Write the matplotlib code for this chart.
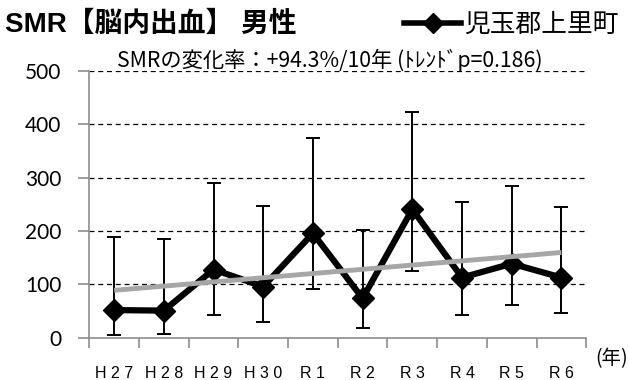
import matplotlib
matplotlib.use("Agg")
import matplotlib.pyplot as plt
import numpy as np

plt.rcParams['font.family'] = ['Noto Sans CJK JP', 'DejaVu Sans']

# Data
years = ["H27", "H28", "H29", "H30", "R1", "R2", "R3", "R4", "R5", "R6"]
smr = [52, 51, 128, 96, 196, 74, 241, 113, 139, 113]
ci_upper = [189, 186, 291, 247, 374, 202, 423, 254, 284, 246]
ci_lower = [5, 7, 43, 29, 91, 19, 126, 42, 61, 46]
trend_start = 89
trend_end = 160
area_name = "児玉郡上里町"
title = "SMR【脳内出血】 男性"
subtitle = "SMRの変化率：+94.3%/10年 (ﾄﾚﾝﾄﾞp=0.186)"
yticks = [0, 100, 200, 300, 400, 500]

fig = plt.figure(figsize=(6.29, 3.80), dpi=100)
ax = fig.add_axes([0.142, 0.111, 0.790, 0.702])

x = np.arange(len(years))
smr_a = np.array(smr)
yerr = [smr_a - np.array(ci_lower), np.array(ci_upper) - smr_a]

for v in yticks[1:]:
    ax.axhline(v, color='black', lw=0.9, ls=(0, (4, 3)), zorder=1)

ax.errorbar(x, smr, yerr=yerr, fmt='none', ecolor='black', elinewidth=1.4,
            capsize=5, capthick=1.4, zorder=2)
ax.plot(x, smr, color='black', lw=4.5, marker='D', markersize=11, zorder=3)
trend = np.linspace(trend_start, trend_end, len(years))
ax.plot([x[0], x[-1]], [trend[0], trend[-1]], color='#a6a6a6', lw=3.5,
        solid_capstyle='butt', zorder=4)

ax.set_xlim(-0.5, len(years) - 0.5)
ax.set_ylim(0, 500)

for s in ['top', 'right']:
    ax.spines[s].set_visible(False)
for s in ['left', 'bottom']:
    ax.spines[s].set_color('#8c8c8c')
    ax.spines[s].set_linewidth(1.2)

ax.set_yticks(yticks)
ax.set_yticklabels([str(v) for v in yticks], fontsize=15, family='Lato')
ax.tick_params(axis='y', length=8, width=1.2, color='#8c8c8c', pad=12)

ax.set_xticks(np.arange(len(years) + 1) - 0.5)
ax.set_xticklabels([])
ax.tick_params(axis='x', which='major', length=7, width=1.2, color='#8c8c8c')
ax.set_xticks(x, minor=True)
ax.set_xticklabels([" ".join(list(y)) for y in years], minor=True,
                   fontsize=11.5, family='Liberation Sans')
ax.tick_params(axis='x', which='minor', length=0, pad=20)

fig.text(0.008, 0.935, title, fontsize=20, fontweight='bold', va='center',
         ha='left', family=['Liberation Sans', 'Noto Sans CJK JP'])
fig.text(0.5 * (112 + 548) / 629, 0.842, subtitle, fontsize=15.3,
         ha='center', va='center')
fig.text(0.998, 0.055, "(年)", fontsize=14, ha='right', va='center')

# legend entry: line with diamond marker, then area name
leg_handle, = ax.plot([], [], color='black', lw=4, marker='D', markersize=10)
fig.legend([leg_handle], [area_name], loc='center left',
           bbox_to_anchor=(0.643, 0.934), frameon=False, fontsize=18.5,
           handlelength=2.2, handletextpad=0.12, borderaxespad=0, borderpad=0)

fig.savefig("out.png", dpi=100)
